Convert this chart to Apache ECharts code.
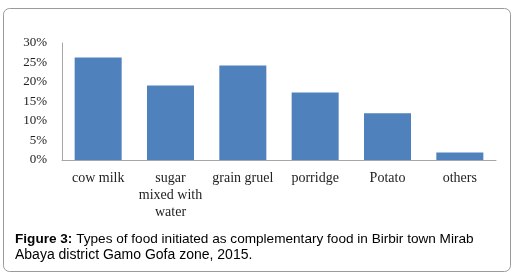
<!DOCTYPE html>
<html lang="en">

<head>
    <title>Figure 3</title>
    <meta charset="utf-8">
    <script src="https://cdn.jsdelivr.net/npm/echarts@6/dist/echarts.min.js"></script>
    <style>
        html, body {
            margin: 0;
            padding: 0;
            background-color: white;
        }
    </style>
</head>

<body>
    <div id="chart" style="width: 517px; height: 278px"></div>
    <script>
        var categories = ["cow milk", "sugar\nmixed with\nwater", "grain gruel", "porridge", "Potato", "others"];
        var shares = [26.3, 19.1, 24.2, 17.3, 12.0, 1.9];
        var yTicks = [0, 5, 10, 15, 20, 25, 30];
        var captionLines = [
            "Types of food initiated as complementary food in Birbir town Mirab",
            "Abaya district Gamo Gofa zone, 2015."
        ];

        var chart = echarts.init(document.getElementById("chart"), null, { renderer: "canvas" });
        chart.setOption({
            animation: false,
            grid: { left: 62, right: 21, top: 43, bottom: 118 },
            xAxis: {
                type: "category",
                data: categories,
                axisLine: { lineStyle: { color: "#a6a6a6", width: 1 } },
                axisTick: { show: false },
                axisLabel: {
                    interval: 0,
                    margin: 10,
                    fontFamily: "Liberation Serif",
                    fontSize: 14,
                    color: "#222",
                    lineHeight: 17
                }
            },
            yAxis: {
                type: "value",
                min: yTicks[0],
                max: yTicks[yTicks.length - 1],
                interval: 5,
                splitLine: { show: false },
                axisLine: { show: true, lineStyle: { color: "#a6a6a6", width: 1 } },
                axisTick: { show: false },
                axisLabel: {
                    margin: 15,
                    fontFamily: "Liberation Serif",
                    fontSize: 13,
                    color: "#222",
                    formatter: function (v) { return v + "%"; }
                }
            },
            series: [{
                type: "bar",
                data: shares,
                barCategoryGap: "35%",
                itemStyle: { color: "#4f81bd" }
            }],
            graphic: [
                {
                    type: "rect",
                    shape: { x: 3.5, y: 8.5, width: 507, height: 263, r: 6 },
                    style: { fill: "none", stroke: "#9a9a9a", lineWidth: 1 }
                },
                {
                    type: "text",
                    left: 15,
                    top: 232,
                    style: {
                        text: "{b|Figure 3:} " + captionLines[0],
                        rich: {
                            b: { fontFamily: "Liberation Sans", fontSize: 13.6, fontWeight: "bold", fill: "#000" }
                        },
                        fontFamily: "Liberation Sans",
                        fontSize: 13.6,
                        fill: "#000"
                    }
                },
                {
                    type: "text",
                    left: 15,
                    top: 248,
                    style: {
                        text: captionLines[1],
                        fontFamily: "Liberation Sans",
                        fontSize: 14,
                        fill: "#000"
                    }
                }
            ]
        });
    </script>
</body>

</html>
